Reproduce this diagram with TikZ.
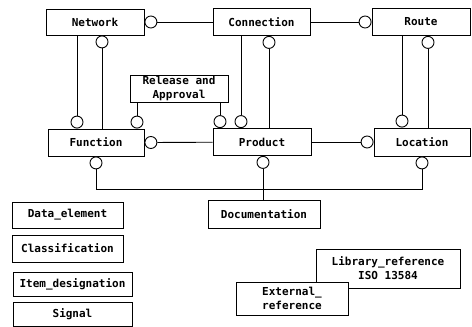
\documentclass[tikz,border=0pt]{standalone}
\usepackage{fontspec}
\setmonofont{DejaVu Sans Mono}
\usetikzlibrary{positioning}

\begin{document}
\begin{tikzpicture}[x=1pt, y=-1pt, line width=0.9pt,
  every entity/.style={draw, fill=white, rectangle, inner sep=1pt, align=center,
    font=\ttfamily\bfseries\fontsize{11}{14}\selectfont},
  ring/.style={draw, circle, fill=white, inner sep=0pt, minimum size=12pt}]

  \useasboundingbox (0,0) rectangle (472,327);

  \foreach \n/\l/\x/\y/\w/\h in {network/Network/95/22/98/26,
      connection/Connection/261.5/22/97/27, route/Route/421/22/98/27,
      function/Function/96/142.5/96/27, product/Product/262/142/98/27,
      location/Location/422/142/96/28, documentation/Documentation/264/214/112/28,
      data/Data\_element/67.5/215/111/26, classification/Classification/67.5/248.5/111/27,
      item/Item\_designation/72.5/284/119/24, signal/Signal/72.5/314/119/24}
    \node [every entity, minimum width=\w pt, minimum height=\h pt] (\n) at (\x,\y) {\l};

  \node [every entity, minimum width=98pt, minimum height=27pt] (release) at (179,88.5)
    {Release and\\Approval};
  \node [every entity, minimum width=144pt, minimum height=39pt] (library) at (388,268.5)
    {Library\_reference\\ISO 13584};
  \node [every entity, minimum width=112pt, minimum height=33pt] (external) at (292,298.5)
    {External\_\\reference};

  \node [ring, right=0pt of network] (ring-nc) {};
  \node [ring, left=0pt of route] (ring-cr) {};
  \node [ring, right=0pt of function] (ring-fp) {};
  \node [ring, left=0pt of location] (ring-pl) {};

  \node [ring, anchor=north] (ring-nf) at ([xshift=7pt]network.south) {};
  \node [ring, anchor=south] (ring-fn) at ([xshift=-19pt]function.north) {};
  \node [ring, anchor=south] (ring-fr) at ([xshift=41pt]function.north) {};
  \node [ring, anchor=south] (ring-pr) at ([xshift=-42pt]product.north) {};
  \node [ring, anchor=south] (ring-pc) at ([xshift=-21pt]product.north) {};
  \node [ring, anchor=north] (ring-cp) at ([xshift=7.5pt]connection.south) {};
  \node [ring, anchor=south] (ring-lr) at ([xshift=-20pt]location.north) {};
  \node [ring, anchor=north] (ring-rl) at ([xshift=7pt]route.south) {};

  \node [ring, anchor=north] (ring-fd) at (function.south) {};
  \node [ring, anchor=north] (ring-pd) at ([xshift=1pt]product.south) {};
  \node [ring, anchor=north] (ring-ld) at (location.south) {};

  \draw (ring-nc) -- (connection);
  \draw (connection) -- (ring-cr);
  \draw (ring-fp) -- (product);
  \draw (product) -- (ring-pl);

  \draw (ring-nf.south) -- (ring-nf.south |- function.north);
  \draw (ring-fn.north) -- (ring-fn.north |- network.south);
  \draw (ring-fr.north) -- (ring-fr.north |- release.south);
  \draw (ring-pr.north) -- (ring-pr.north |- release.south);
  \draw (ring-pc.north) -- (ring-pc.north |- connection.south);
  \draw (ring-cp.south) -- (ring-cp.south |- product.north);
  \draw (ring-lr.north) -- (ring-lr.north |- route.south);
  \draw (ring-rl.south) -- (ring-rl.south |- location.north);

  \draw (ring-fd.south) -- ++(0,20) -| (ring-ld.south);
  \draw (ring-pd.south) -- (ring-pd.south |- documentation.north);

\end{tikzpicture}
\end{document}
